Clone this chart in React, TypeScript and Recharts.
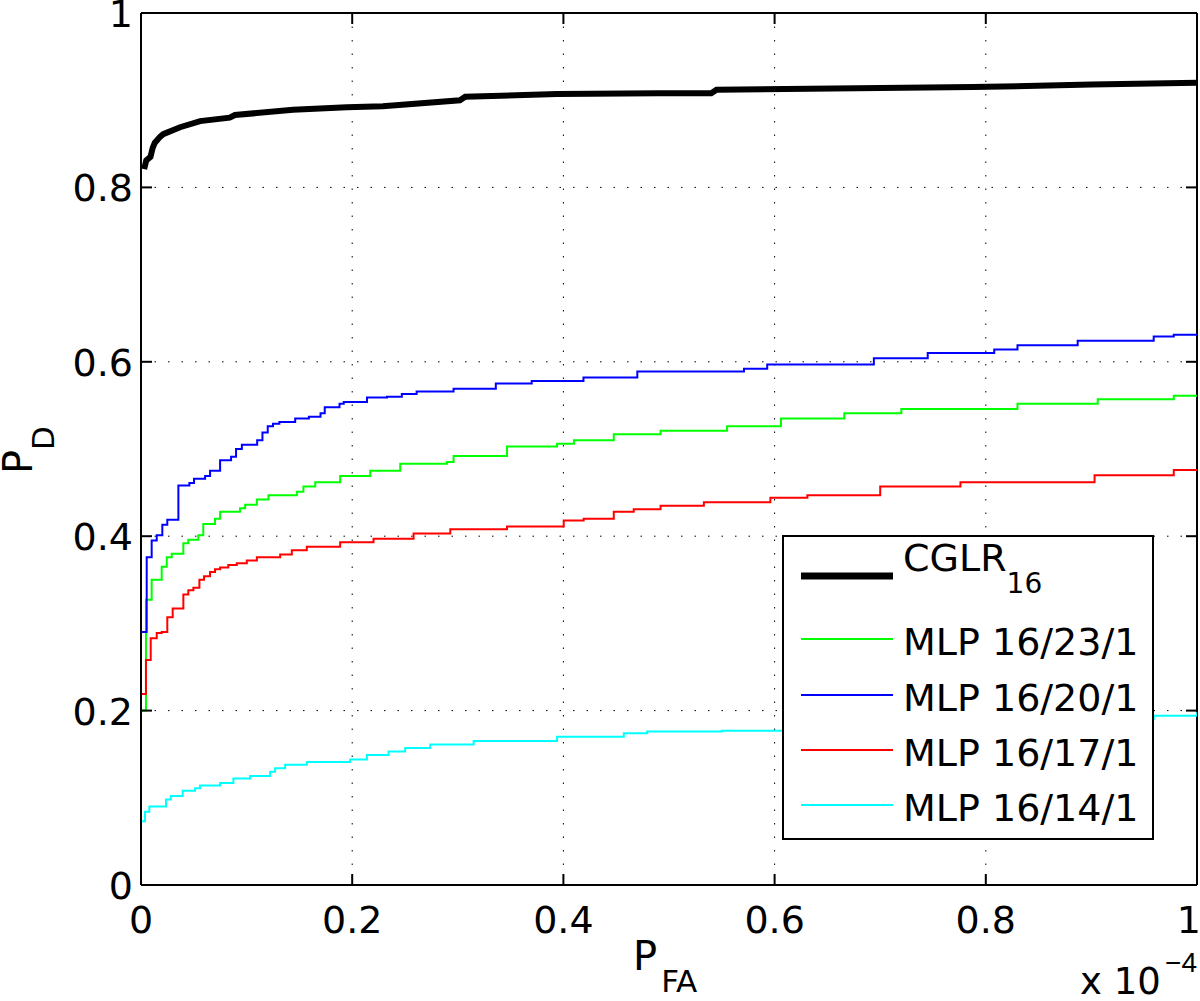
import React from 'react';
import { LineChart, Line, XAxis, YAxis, CartesianGrid, Legend, ReferenceLine, Label } from 'recharts';

// ---------- data ----------
const xTicks = [0, 0.2, 0.4, 0.6, 0.8, 1];
const yTicks = [0, 0.2, 0.4, 0.6, 0.8, 1];
const xTickLabels = ['0', '0.2', '0.4', '0.6', '0.8', '1'];
const yTickLabels = ['0', '0.2', '0.4', '0.6', '0.8', '1'];

const seriesNames = ['CGLR', 'MLP 16/23/1', 'MLP 16/20/1', 'MLP 16/17/1', 'MLP 16/14/1'];
const seriesSubs = ['16', '', '', '', ''];
const seriesColors = ['#000000', '#00ff00', '#0000ff', '#ff0000', '#00ffff'];
const seriesWidths = [6, 2, 2, 2, 2];

// P_FA (x 1e-4), P_D
const cglr: [number, number][] = [
  [0.003, 0.821], [0.005, 0.831], [0.009, 0.835], [0.011, 0.845], [0.013, 0.851], [0.018, 0.858],
  [0.021, 0.861], [0.037, 0.869], [0.056, 0.876], [0.084, 0.88], [0.089, 0.883], [0.144, 0.889],
  [0.195, 0.892], [0.229, 0.893], [0.302, 0.9], [0.307, 0.904], [0.394, 0.907], [0.49, 0.908],
  [0.54, 0.908], [0.545, 0.912], [0.7, 0.914], [0.788, 0.915], [0.9, 0.918], [1, 0.92],
];

const mlp23: [number, number][] = [
  [0, 0], [0, 0.2], [0.0047, 0.327], [0.0101, 0.35], [0.0196, 0.365], [0.0244, 0.376], [0.0291, 0.38],
  [0.0401, 0.392], [0.0448, 0.396], [0.0543, 0.401], [0.059, 0.414], [0.0701, 0.42], [0.0749, 0.428],
  [0.0938, 0.432], [0.0986, 0.436], [0.1097, 0.442], [0.1207, 0.447], [0.1476, 0.451], [0.1538, 0.457],
  [0.165, 0.462], [0.1886, 0.469], [0.2171, 0.475], [0.2455, 0.483], [0.2898, 0.485], [0.296, 0.492],
  [0.3466, 0.503], [0.394, 0.506], [0.41, 0.51], [0.4477, 0.517], [0.492, 0.521], [0.555, 0.526],
  [0.606, 0.535], [0.666, 0.541], [0.72, 0.546], [0.83, 0.552], [0.906, 0.557], [0.978, 0.561], [1, 0.562],
];

const mlp20: [number, number][] = [
  [0, 0], [0, 0.29], [0.0054, 0.376], [0.0101, 0.395], [0.0149, 0.401], [0.0202, 0.413], [0.0249, 0.419],
  [0.0354, 0.458], [0.0458, 0.461], [0.0502, 0.466], [0.0607, 0.469], [0.0654, 0.475], [0.0749, 0.487],
  [0.0853, 0.491], [0.09, 0.5], [0.0955, 0.505], [0.11, 0.51], [0.115, 0.519], [0.12, 0.526],
  [0.125, 0.529], [0.131, 0.531], [0.146, 0.535], [0.159, 0.537], [0.17, 0.541], [0.174, 0.548],
  [0.188, 0.552], [0.192, 0.554], [0.214, 0.559], [0.233, 0.56], [0.247, 0.563], [0.261, 0.566],
  [0.296, 0.569], [0.336, 0.575], [0.37, 0.578], [0.419, 0.582], [0.47, 0.589], [0.571, 0.592],
  [0.593, 0.597], [0.694, 0.604], [0.745, 0.61], [0.808, 0.614], [0.83, 0.619], [0.887, 0.624],
  [0.959, 0.629], [0.978, 0.631], [1, 0.631],
];

const mlp17: [number, number][] = [
  [0, 0], [0, 0.219], [0.0047, 0.258], [0.0092, 0.283], [0.0149, 0.289], [0.0196, 0.29], [0.0249, 0.307],
  [0.03, 0.317], [0.0401, 0.333], [0.0448, 0.338], [0.0496, 0.341], [0.0553, 0.35], [0.0597, 0.354],
  [0.0654, 0.359], [0.0701, 0.362], [0.0749, 0.364], [0.0827, 0.367], [0.0907, 0.369], [0.1002, 0.372],
  [0.1097, 0.376], [0.1318, 0.379], [0.1428, 0.384], [0.157, 0.388], [0.1886, 0.393], [0.2202, 0.397],
  [0.2581, 0.403], [0.2929, 0.408], [0.3466, 0.411], [0.4003, 0.418], [0.4192, 0.42], [0.4477, 0.428],
  [0.4666, 0.431], [0.492, 0.435], [0.533, 0.439], [0.596, 0.444], [0.631, 0.447], [0.7, 0.457],
  [0.776, 0.462], [0.903, 0.47], [0.978, 0.476], [1, 0.477],
];

const mlp14: [number, number][] = [
  [0, 0], [0, 0.073], [0.0038, 0.084], [0.0079, 0.09], [0.0237, 0.098], [0.0282, 0.102], [0.0395, 0.108],
  [0.0512, 0.111], [0.0559, 0.114], [0.0749, 0.117], [0.0875, 0.122], [0.1033, 0.125], [0.1223, 0.13],
  [0.127, 0.134], [0.1365, 0.138], [0.1571, 0.141], [0.1981, 0.144], [0.2139, 0.149], [0.2344, 0.153],
  [0.2502, 0.157], [0.2739, 0.161], [0.315, 0.165], [0.394, 0.17], [0.4572, 0.174], [0.4793, 0.176],
  [0.55, 0.177], [0.6085, 0.178], [0.7, 0.182], [0.8, 0.186], [0.9, 0.19], [0.959, 0.194], [1, 0.198],
];

const seriesPoints = [cglr, mlp23, mlp20, mlp17, mlp14];
const seriesTypes: ('linear' | 'stepAfter')[] = ['linear', 'stepAfter', 'stepAfter', 'stepAfter', 'stepAfter'];

const toRows = (pts: [number, number][]) => pts.map(([x, y]) => ({ x, y }));

// ---------- layout / style ----------
const W = 1200;
const H = 1001;
const PLOT = { left: 141, right: 1197, top: 13, bottom: 885 };
const TICK_LEN = 11;
const FONT = '"DejaVu Sans", "Liberation Sans", sans-serif';
const SUP_FONT = '"Liberation Sans", Arial, sans-serif';
const TICK_FS = 38;

function XTick(props: any) {
  const { x, payload } = props;
  const i = xTicks.indexOf(payload.value);
  const last = i === xTicks.length - 1;
  return (
    <g>
      <line x1={x} x2={x} y1={PLOT.bottom} y2={PLOT.bottom - TICK_LEN} stroke="#000" strokeWidth={2} />
      <line x1={x} x2={x} y1={PLOT.top} y2={PLOT.top + TICK_LEN} stroke="#000" strokeWidth={2} />
      <text
        x={last ? x + 4 : x}
        y={PLOT.bottom + 48}
        textAnchor={last ? 'end' : 'middle'}
        fontSize={TICK_FS}
        fontFamily={FONT}
        fill="#000"
      >
        {xTickLabels[i]}
      </text>
    </g>
  );
}

function YTick(props: any) {
  const { y, payload } = props;
  const i = yTicks.indexOf(payload.value);
  return (
    <g>
      <line x1={PLOT.left} x2={PLOT.left + TICK_LEN} y1={y} y2={y} stroke="#000" strokeWidth={2} />
      <line x1={PLOT.right} x2={PLOT.right - TICK_LEN} y1={y} y2={y} stroke="#000" strokeWidth={2} />
      <text x={PLOT.left - 8} y={y + 14} textAnchor="end" fontSize={TICK_FS} fontFamily={FONT} fill="#000">
        {yTickLabels[i]}
      </text>
    </g>
  );
}

function XTitle() {
  return (
    <g>
      <text x={633} y={970} fontSize={40} fontFamily={FONT} fill="#000">
        P<tspan dx={4} dy={22} fontSize={31}>FA</tspan>
      </text>
      <text x={1080} y={994} fontSize={37} fontFamily={FONT} fill="#000">x 10</text>
      <text x={1197} y={972} textAnchor="end" fontSize={28} fontFamily={SUP_FONT} fill="#000">−4</text>
    </g>
  );
}

function YTitle() {
  return (
    <text x={32} y={474} transform="rotate(-90 32 474)" fontSize={40} fontFamily={FONT} fill="#000">
      P<tspan dy={22} fontSize={31}>D</tspan>
    </text>
  );
}

function LegendBox() {
  const rowY = [41, 104, 160, 215, 270];
  return (
    <svg width={372} height={305} style={{ display: 'block' }}>
      <rect x={1} y={1} width={370} height={303} fill="#fff" stroke="#000" strokeWidth={2} />
      {seriesNames.map((name, i) => {
        const ly = rowY[i];
        return (
          <g key={name}>
            <line x1={19} x2={111} y1={ly} y2={ly} stroke={seriesColors[i]} strokeWidth={seriesWidths[i] === 6 ? 7 : 2} />
            <text x={121} y={ly + (i === 0 ? -5 : 16)} fontSize={38} fontFamily={FONT} fill="#000">
              {name}
              {seriesSubs[i] ? (
                <tspan dy={22} fontSize={28}>{seriesSubs[i]}</tspan>
              ) : null}
            </text>
          </g>
        );
      })}
    </svg>
  );
}

export default function App() {
  return (
    <div style={{ position: 'absolute', left: 0, top: 0, width: W, height: H, background: '#fff' }}>
      <LineChart width={W} height={H} margin={{ top: 13, right: 3, bottom: 115, left: 140 }}>
        <CartesianGrid stroke="#000" strokeDasharray="1.5 12" strokeWidth={1} />
        <XAxis
          type="number"
          dataKey="x"
          domain={[0, 1]}
          ticks={xTicks}
          allowDataOverflow
          height={1}
          tickSize={0}
          tickMargin={0}
          tickLine={false}
          tick={<XTick />}
          axisLine={{ stroke: '#000', strokeWidth: 2 }}
          interval={0}
        >
          <Label content={<XTitle />} />
        </XAxis>
        <YAxis
          type="number"
          domain={[0, 1]}
          ticks={yTicks}
          allowDataOverflow
          width={1}
          tickSize={0}
          tickMargin={8}
          tickLine={false}
          tick={<YTick />}
          axisLine={{ stroke: '#000', strokeWidth: 2 }}
          interval={0}
        >
          <Label content={<YTitle />} />
        </YAxis>
        <ReferenceLine y={1} stroke="#000" strokeWidth={2} />
        <ReferenceLine x={1} stroke="#000" strokeWidth={2} />
        {seriesNames.map((name, i) => (
          <Line
            key={name}
            name={name}
            data={toRows(seriesPoints[i])}
            dataKey="y"
            type={seriesTypes[i]}
            stroke={seriesColors[i]}
            strokeWidth={seriesWidths[i]}
            dot={false}
            activeDot={false}
            isAnimationActive={false}
            strokeLinejoin="miter"
          />
        ))}
        <Legend
          layout="horizontal"
          verticalAlign="middle"
          align="center"
          content={<LegendBox />}
          wrapperStyle={{ position: 'absolute', left: 782, top: 535, width: 372, height: 305 }}
        />
      </LineChart>
    </div>
  );
}
